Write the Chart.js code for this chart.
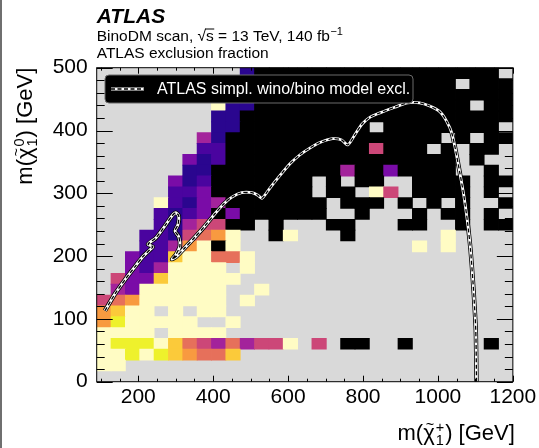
<!DOCTYPE html>
<html>
<head>
<meta charset="utf-8">
<script src="https://cdn.jsdelivr.net/npm/chart.js@4.4.1/dist/chart.umd.min.js"></script>
<style>
  html, body { margin: 0; padding: 0; background: #fff; }
  #wrap { width: 539px; height: 448px; }
</style>
</head>
<body>
<div id="wrap"><canvas id="chart" width="539" height="448"></canvas></div>
<script>
/*
 * ATLAS BinoDM scan - exclusion fraction in the m(chi1+) / m(chi10) plane
 */

const FONT = "'Liberation Sans', Arial, Helvetica, sans-serif";

// exclusion fraction per bin, bottom row (lowest m(chi10)) first, columns go with m(chi1+)
// '.' = no models in the bin, '0'..'9' = fraction in tenths, 'X' = every model excluded
const fracRows = [
    '.............................',
    '00...........................',
    '0010123442...................',
    '01110245646550.5.XX..X.....X.',
    '0000.0000....................',
    '3100000..0...................',
    '3200.0.00....................',
    '543000000.0..................',
    '.67000000..0.................',
    '.577200000...................',
    '..7860000.0..................',
    '..788200440..................',
    '...88630X0............0.0....',
    '...8895430..X0...X......0....',
    '....89655XX.X...XX...XX..X.XX',
    '....8987X7XXXXXX..X...X.XX.X.',
    '....08976XXXXXXX.XXX.X.X.X..X',
    '.....887XXXXXXX.XX.05.XXXX.X.',
    '.....798XXXXXXX.X.XX..XXXX.XX',
    '......99XXXXXXXXX6XX7XXXX..X.',
    '......798XXXXXXXXXXXXXXXX.X..',
    '.......88XXXXXXXXXX5XXX.X.XX.',
    '.......69XXXXXXXXXXXXXXX.X.XX',
    '........99XXXXXXXXX.XXXXXXXX.',
    '........99XXXXXXXXXXXXXXXXXXX',
    '........099XXXXXXXXXXXXXXX.XX',
    '.........99XXXXXXXXXXXXXXXXXX',
    '..........9XXXXXXXXXXXXXX.XXX',
    '..........9XXXXXXXXXXXXXXXXX.'
];

const xRange = [89, 1200];  // m(chi1+) [GeV]
const yRange = [0, 500];    // m(chi10) [GeV]
const xTickValues = [200, 400, 600, 800, 1000, 1200];
const yTickValues = [0, 100, 200, 300, 400, 500];

// ATLAS simplified wino/bino model exclusion contour
const contourX = [111, 138, 164, 191, 212, 231, 239, 226, 247, 271, 290, 300, 308, 306, 298, 308,
    311, 300, 290, 303, 324, 351, 378, 404, 428, 450, 476, 503, 519, 530, 551, 578, 605, 631, 658,
    685, 719, 743, 759, 778, 797, 818, 845, 885, 919, 951, 978, 1005, 1023, 1037, 1047, 1058, 1069,
    1079, 1087, 1095, 1101, 1103];
const contourY = [113, 140, 162, 183, 199, 210, 215, 219, 229, 248, 264, 269, 264, 250, 240, 231,
    216, 202, 195, 200, 213, 230, 248, 267, 283, 294, 301, 301, 297, 292, 308, 328, 347, 361, 372,
    381, 387, 385, 377, 393, 410, 421, 428, 437, 444, 444, 439, 430, 415, 396, 369, 334, 297,
    254, 210, 146, 82, 0];

const legendLabel = 'ATLAS simpl. wino/bino model excl.';

// colour scale, index = fraction in tenths
const levelColors = ['#fffcc4', '#eef12c', '#fbca3a', '#f89a40', '#e6705b',
    '#cc4778', '#a3239b', '#7a0ca7', '#4a049f', '#2a068f'];
const noModelColor = '#d9d9d9';

// black outline, white core, black dashes
const contourStyles = [['#000', 4.4, []], ['#fff', 2.8, []], ['#000', 1.3, [4, 2.5]]];

function parse_frac(ch) {
    if (ch === '.') return null;
    if (ch === 'X') return 1;
    return Number(ch) / 10;
}

function cell_color(f) {
    if (f === null) return 'rgba(0,0,0,0)';
    if (f >= 1) return '#000000';
    return levelColors[Math.round(f * 10)];
}

const fracGrid = fracRows.map(row => row.split('').map(parse_frac));
const rowSize = (yRange[1] - yRange[0]) / fracGrid.length;

const cellSets = fracGrid.map((row, r) => ({
    type: 'bar',
    xAxisID: 'xc',
    yAxisID: 'y',
    order: 3,
    data: row.map(f => f === null ? null : [yRange[0] + r * rowSize, yRange[0] + (r + 1) * rowSize]),
    backgroundColor: row.map(cell_color),
    borderWidth: 0,
    barPercentage: 1,
    categoryPercentage: 1,
    grouped: false,
    inflateAmount: 0.4
}));

const contourPoints = contourX.map((x, i) => ({ x: x, y: contourY[i] }));

// top layer first: Chart.js draws lower order on top
const contourSets = contourStyles.slice().reverse().map((s, i) => ({
    type: 'line',
    xAxisID: 'x',
    yAxisID: 'y',
    order: i,
    data: contourPoints,
    borderColor: s[0],
    borderWidth: s[1],
    borderDash: s[2],
    borderJoinStyle: 'round',
    pointRadius: 0,
    tension: 0.25,
    fill: false
}));

/**
 * Draw a mass label like m(chi~ sub/sup) [GeV], ending at xEnd
 */
function draw_mass_label(ctx, xEnd, yBase, sup) {
    const big = 22, small = 14.5;
    ctx.font = big + 'px ' + FONT;
    const w1 = ctx.measureText('m(').width;
    const wChi = ctx.measureText('\u03c7').width;
    const w3 = ctx.measureText(') [GeV]').width;
    ctx.font = small + 'px ' + FONT;
    const wIdx = Math.max(ctx.measureText('1').width, ctx.measureText(sup).width);
    let x = xEnd - (w1 + wChi + 1 + wIdx + 1 + w3);

    ctx.fillStyle = '#000';
    ctx.textBaseline = 'alphabetic';
    ctx.textAlign = 'left';
    ctx.font = big + 'px ' + FONT;
    ctx.fillText('m(', x, yBase);
    x += w1;
    ctx.fillText('\u03c7', x, yBase);
    ctx.font = small + 'px ' + FONT;
    ctx.textAlign = 'center';
    ctx.fillText('~', x + wChi / 2 + 1, yBase - 11.5);
    x += wChi + 1;
    ctx.textAlign = 'left';
    ctx.fillText(sup, x, yBase - 8.5);
    ctx.fillText('1', x, yBase + 5);
    x += wIdx + 1;
    ctx.font = big + 'px ' + FONT;
    ctx.fillText(') [GeV]', x, yBase);
}

function draw_contour_sample(ctx, x0, x1, y) {
    contourStyles.forEach(s => {
        ctx.strokeStyle = s[0];
        ctx.lineWidth = s[1];
        ctx.setLineDash(s[2]);
        ctx.beginPath();
        ctx.moveTo(x0, y);
        ctx.lineTo(x1, y);
        ctx.stroke();
    });
    ctx.setLineDash([]);
}

const atlasFrame = {
    id: 'atlasFrame',
    beforeDatasetsDraw(chart) {
        const { ctx, chartArea: a } = chart;
        ctx.save();
        ctx.fillStyle = noModelColor;
        ctx.fillRect(a.left, a.top, a.width, a.height);
        ctx.restore();
    },
    afterDatasetsDraw(chart) {
        const { ctx, chartArea: a, scales } = chart;
        ctx.save();
        ctx.strokeStyle = '#000';
        ctx.lineWidth = 1;

        // inward ticks on all four sides
        ctx.beginPath();
        for (let v = 100; v <= xRange[1]; v += 50) {
            const px = Math.round(scales.x.getPixelForValue(v)) + 0.5;
            const len = v % 200 === 0 ? 6 : 3;
            ctx.moveTo(px, a.bottom); ctx.lineTo(px, a.bottom - len);
            ctx.moveTo(px, a.top); ctx.lineTo(px, a.top + len);
        }
        for (let v = yRange[0]; v <= yRange[1]; v += 20) {
            const py = Math.round(scales.y.getPixelForValue(v)) + 0.5;
            const len = v % 100 === 0 ? 16 : 8;
            ctx.moveTo(a.left, py); ctx.lineTo(a.left + len, py);
            ctx.moveTo(a.right, py); ctx.lineTo(a.right - len, py);
        }
        ctx.stroke();
        ctx.strokeRect(a.left, a.top, a.width, a.height);

        // legend box
        const lx = a.left + 8.3, ly = a.top + 7.3, lw = 308, lh = 28;
        ctx.fillStyle = '#000';
        ctx.strokeStyle = '#6a6a6a';
        ctx.beginPath();
        ctx.roundRect(lx, ly, lw, lh, 4);
        ctx.fill();
        ctx.stroke();
        draw_contour_sample(ctx, lx + 6, lx + 39, ly + lh / 2);
        ctx.fillStyle = '#fff';
        ctx.font = '16px ' + FONT;
        ctx.textAlign = 'left';
        ctx.textBaseline = 'middle';
        ctx.fillText(legendLabel, lx + 52, ly + lh / 2 + 1);
        ctx.restore();
    },
    afterDraw(chart) {
        const { ctx, chartArea: a } = chart;
        ctx.save();

        // page edge
        ctx.fillStyle = '#6f6f6f';
        ctx.fillRect(0, 0, 2, chart.height);

        // header
        ctx.fillStyle = '#000';
        ctx.textAlign = 'left';
        ctx.textBaseline = 'alphabetic';
        ctx.font = 'italic bold 21px ' + FONT;
        ctx.fillText('ATLAS', a.left, 23);

        ctx.font = '15.5px ' + FONT;
        let x = a.left;
        const y2 = 41;
        ctx.fillText('BinoDM scan, ', x, y2);
        x += ctx.measureText('BinoDM scan, ').width;
        const wRoot = ctx.measureText('\u221a').width;
        ctx.fillText('\u221a', x, y2);
        const ws = ctx.measureText('s').width;
        ctx.fillText('s', x + wRoot, y2);
        ctx.lineWidth = 1;
        ctx.strokeStyle = '#000';
        ctx.beginPath();
        ctx.moveTo(x + wRoot - 1, y2 - 12);
        ctx.lineTo(x + wRoot + ws + 0.5, y2 - 12);
        ctx.stroke();
        x += wRoot + ws;
        const rest = ' = 13 TeV, 140 fb';
        ctx.fillText(rest, x, y2);
        x += ctx.measureText(rest).width;
        ctx.font = '11px ' + FONT;
        ctx.fillText('\u22121', x + 0.5, y2 - 6);

        ctx.font = '15.5px ' + FONT;
        ctx.fillText('ATLAS exclusion fraction', a.left, 58);

        // axis titles
        draw_mass_label(ctx, a.right + 2, 440, '+');
        ctx.translate(32, a.top);
        ctx.rotate(-Math.PI / 2);
        draw_mass_label(ctx, 0, 0, '0');
        ctx.restore();
    }
};

new Chart(document.getElementById('chart').getContext('2d'), {
    type: 'bar',
    data: {
        labels: fracGrid[0].map((_, i) => i),
        datasets: [...contourSets, ...cellSets]
    },
    options: {
        responsive: false,
        animation: false,
        events: [],
        layout: { padding: { left: 0, top: 67.7, right: 26.15, bottom: 0 } },
        scales: {
            xc: { type: 'category', display: false, offset: true },
            x: {
                type: 'linear',
                position: 'bottom',
                min: xRange[0],
                max: xRange[1],
                offset: false,
                afterBuildTicks: axis => { axis.ticks = xTickValues.map(v => ({ value: v })); },
                afterFit: axis => { axis.height = 66.3; axis.paddingLeft = 0; axis.paddingRight = 0; },
                ticks: {
                    color: '#000',
                    font: { family: FONT, size: 21 },
                    padding: 3,
                    maxRotation: 0,
                    autoSkip: false,
                    callback: v => String(v)
                },
                grid: { display: false, drawTicks: false, offset: false },
                border: { display: false }
            },
            y: {
                type: 'linear',
                min: yRange[0],
                max: yRange[1],
                offset: false,
                afterBuildTicks: axis => { axis.ticks = yTickValues.map(v => ({ value: v })); },
                afterFit: axis => { axis.width = 96.7; axis.paddingTop = 0; axis.paddingBottom = 0; },
                ticks: {
                    color: '#000',
                    font: { family: FONT, size: 21 },
                    padding: 9,
                    callback: v => String(v)
                },
                grid: { display: false, drawTicks: false },
                border: { display: false }
            }
        },
        plugins: {
            legend: { display: false },
            tooltip: { enabled: false }
        }
    },
    plugins: [atlasFrame]
});
</script>
</body>
</html>
